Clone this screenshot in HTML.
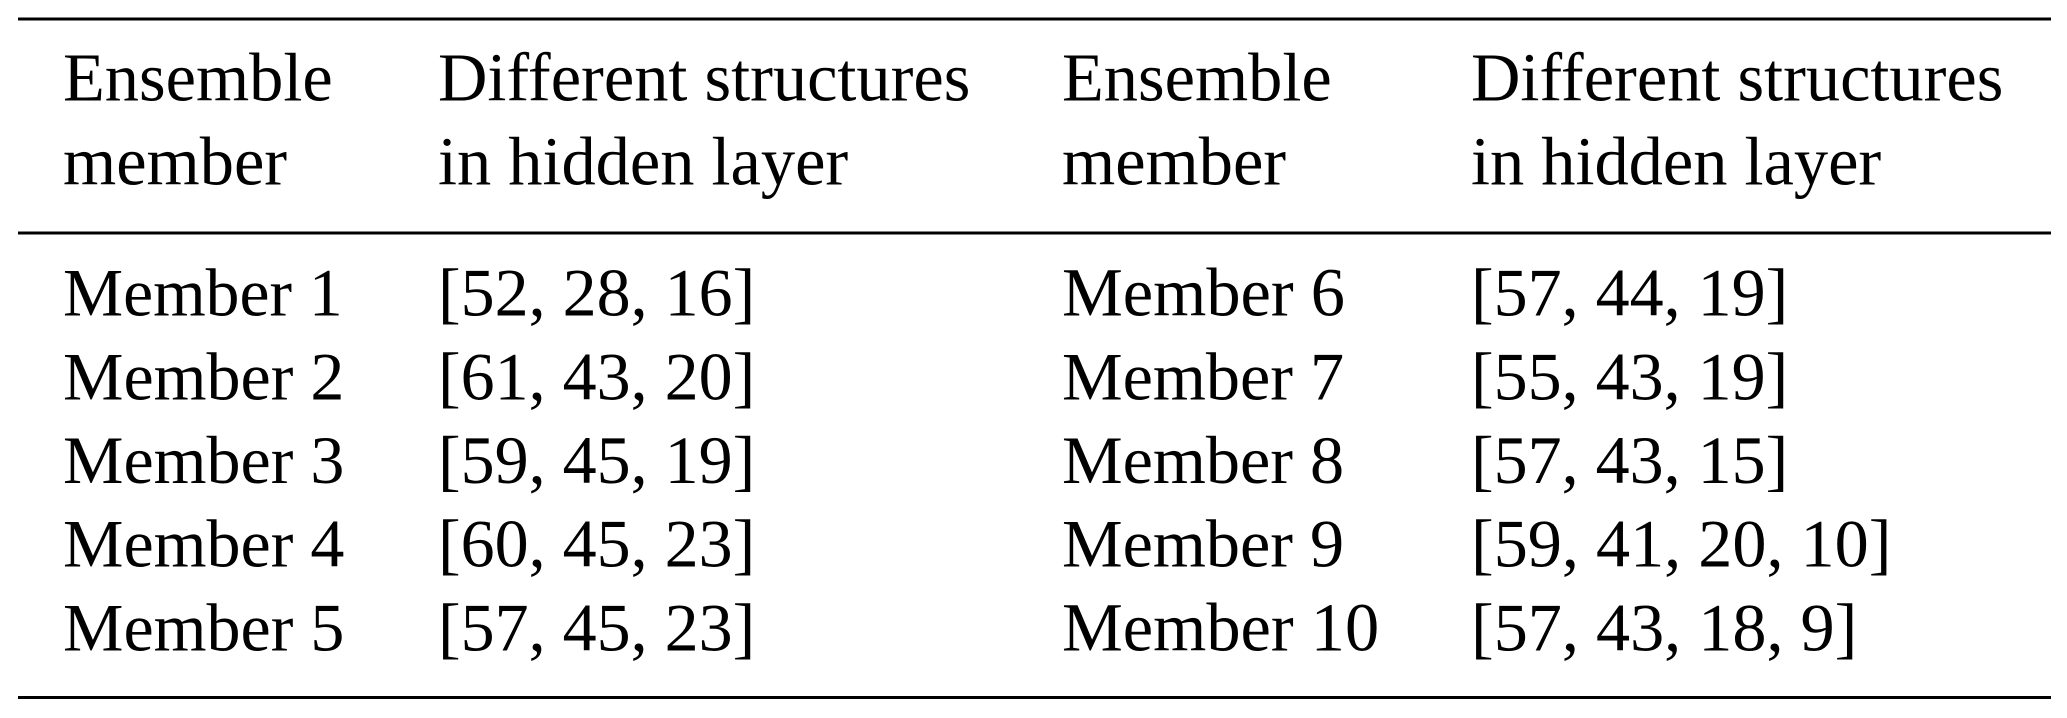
<!DOCTYPE html>
<html>
<head>
<meta charset="utf-8">
<style>
html,body{margin:0;padding:0;background:#fff;width:2067px;height:718px;overflow:hidden}
svg{display:block}
text{font-family:"Liberation Serif",serif;font-size:68.4px;fill:#000}
text.b{font-size:68px}
text.c{font-size:68.2px}
</style>
</head>
<body>
<svg width="2067" height="718" viewBox="0 0 2067 718" xmlns="http://www.w3.org/2000/svg">
<rect x="18" y="17.500" width="2033" height="3" fill="#000"/>
<rect x="18" y="231.500" width="2033" height="3" fill="#000"/>
<rect x="18" y="696" width="2033" height="3" fill="#000"/>

<text x="63" y="100.500">Ensemble</text>
<text x="63" y="184.500">member</text>
<text x="438" y="100.500">Different structures</text>
<text x="438" y="184.500">in hidden layer</text>
<text x="1062" y="100.500">Ensemble</text>
<text x="1062" y="184.500">member</text>
<text x="1471" y="100.500">Different structures</text>
<text x="1471" y="184.500">in hidden layer</text>

<text class="b" x="63" y="315.500" style="font-size:67.6px">Member 1</text><text class="b" x="438" y="315.500">[52, 28, 16]</text>
<text class="b" x="63" y="399.500">Member 2</text><text class="b" x="438" y="399.500">[61, 43, 20]</text>
<text class="b" x="63" y="483">Member 3</text><text class="b" x="438" y="483">[59, 45, 19]</text>
<text class="b" x="63" y="566.500">Member 4</text><text class="b" x="438" y="566.500">[60, 45, 23]</text>
<text class="b" x="63" y="650.500">Member 5</text><text class="b" x="438" y="650.500">[57, 45, 23]</text>

<text x="1062" y="315.500">Member 6</text><text class="b" x="1471" y="315.500">[57, 44, 19]</text>
<text class="c" x="1062" y="399.500">Member 7</text><text class="b" x="1471" y="399.500">[55, 43, 19]</text>
<text class="c" x="1062" y="483">Member 8</text><text class="b" x="1471" y="483">[57, 43, 15]</text>
<text class="c" x="1062" y="566.500">Member 9</text><text class="c" x="1471" y="566.500">[59, 41, 20, 10]</text>
<text x="1062" y="650.500">Member 10</text><text class="c" x="1471" y="650.500">[57, 43, 18, 9]</text>
</svg>
</body>
</html>
